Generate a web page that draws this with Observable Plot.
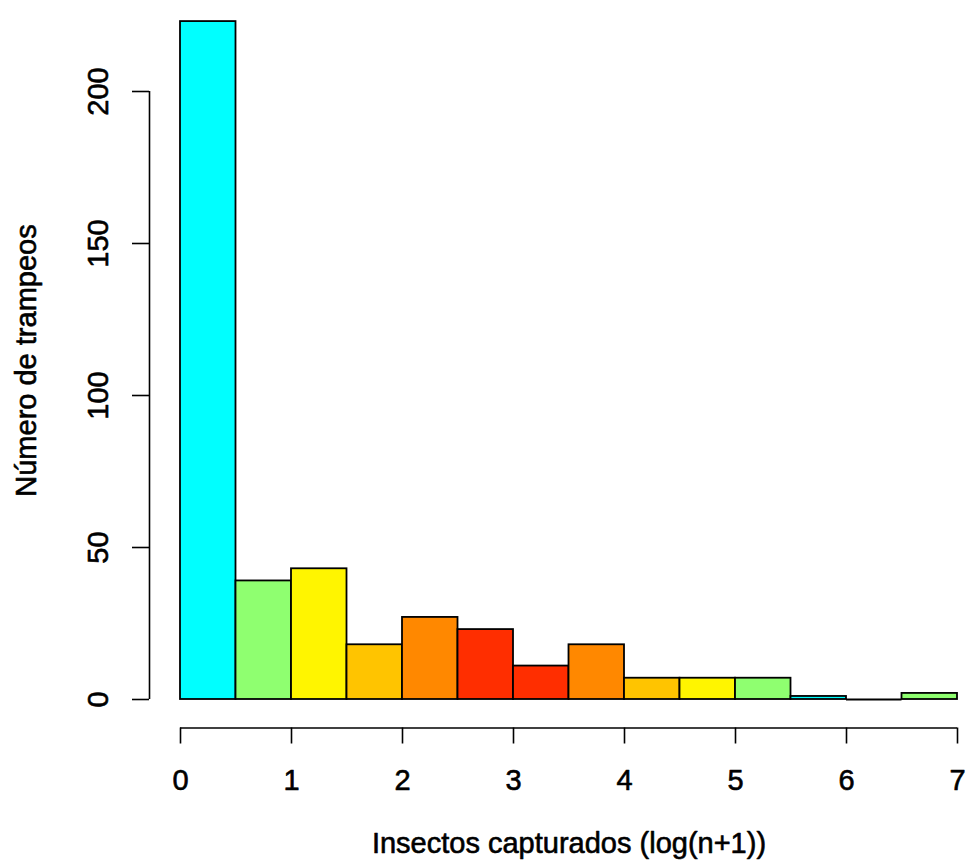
<!DOCTYPE html>
<html>
<head>
<meta charset="utf-8">
<script src="https://cdn.jsdelivr.net/npm/d3@7"></script>
<script src="https://cdn.jsdelivr.net/npm/@observablehq/plot@0.6"></script>
<style>
  html, body { margin: 0; padding: 0; background: #fff; }
  svg { display: block; }
</style>
</head>
<body>
<div id="chart"></div>
<script>
const binStarts = [0, 0.5, 1, 1.5, 2, 2.5, 3, 3.5, 4, 4.5, 5, 5.5, 6, 6.5];
const binWidth = 0.5;
const counts = [223, 39, 43, 18, 27, 23, 11, 18, 7, 7, 7, 1, 0, 2];
const barColors = ["#00FFFF", "#8FFF70", "#FFF500", "#FFC400", "#FF8800", "#FF2E00", "#FF2E00",
                   "#FF8800", "#FFC400", "#FFF500", "#8FFF70", "#00FFFF", "#00FFFF", "#8FFF70"];
const xTicks = [0, 1, 2, 3, 4, 5, 6, 7];
const yTicks = [0, 50, 100, 150, 200];
const xTitle = "Insectos capturados (log(n+1))";
const yTitle = "Número de trampeos";

const bins = binStarts.map((s, i) => ({x1: s, x2: s + binWidth, count: counts[i], color: barColors[i]}));
const font = "'Liberation Sans', Arial, Helvetica, sans-serif";
const textStyle = {fontSize: 29, fill: "black", stroke: "black", strokeWidth: 0.6,
  textAnchor: "middle", lineAnchor: "middle"};

const chart = Plot.plot({
  width: 967,
  height: 865,
  marginLeft: 180,
  marginRight: 10,
  marginTop: 15,
  marginBottom: 166,
  style: {fontFamily: font, background: "#fff"},
  x: {domain: [0, 7]},
  y: {domain: [0, 225]},
  marks: [
    Plot.rectY(bins, {x1: "x1", x2: "x2", y1: 0, y2: "count", fill: "color", stroke: "black", strokeWidth: 1.8}),
    // empty bins drawn as a flat line, as R does
    Plot.ruleY(bins.filter(d => d.count === 0), {y: "count", x1: "x1", x2: "x2", stroke: "black", strokeWidth: 1.8}),
    // y axis (R-style detached)
    Plot.ruleX([0], {y1: yTicks[0], y2: yTicks[yTicks.length - 1], dx: -31, stroke: "black", strokeWidth: 1.6}),
    Plot.axisY({ticks: yTicks, tickSize: 17, dx: -31, tickFormat: () => "", label: null, strokeWidth: 1.6}),
    Plot.text(yTicks, {y: d => d, frameAnchor: "left", dx: -81.3, rotate: -90, text: d => String(d), ...textStyle}),
    // x axis
    Plot.ruleY([0], {x1: xTicks[0], x2: xTicks[xTicks.length - 1], dy: 28.5, stroke: "black", strokeWidth: 1.6}),
    Plot.axisX({ticks: xTicks, tickSize: 16, dy: 28.5, tickFormat: () => "", label: null, strokeWidth: 1.6}),
    Plot.text(xTicks, {x: d => d, frameAnchor: "bottom", dy: 81.4, text: d => String(d), ...textStyle}),
    // titles
    Plot.text([xTitle], {frameAnchor: "bottom", dy: 144.4, text: d => d, ...textStyle}),
    Plot.text([yTitle], {frameAnchor: "left", dx: -153.8, dy: 3, rotate: -90, text: d => d, ...textStyle})
  ]
});
document.getElementById("chart").appendChild(chart);
</script>
</body>
</html>
